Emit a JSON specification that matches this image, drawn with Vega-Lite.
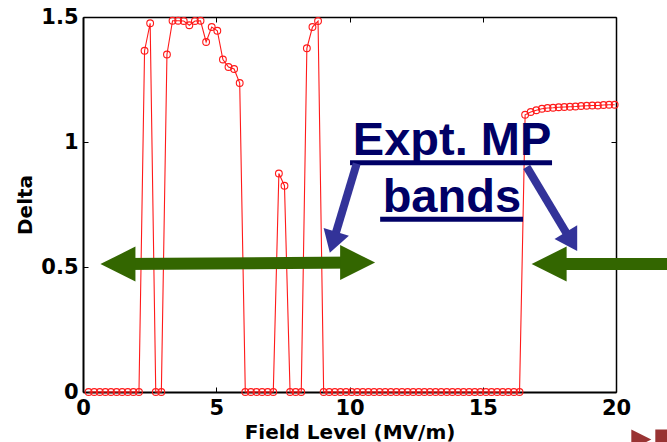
{
  "$schema": "https://vega.github.io/schema/vega-lite/v6.json",
  "autosize": {"type": "none"},
  "padding": {"left": 83, "top": 17, "right": 51, "bottom": 50},
  "width": 533,
  "height": 375,
  "background": "white",
  "config": {
    "view": {"stroke": null},
    "axis": {
      "grid": false,
      "labelFlush": false,
      "labelOverlap": false,
      "domainColor": "black",
      "tickColor": "black",
      "labelColor": "black",
      "titleColor": "black",
      "labelFont": "DejaVu Sans",
      "labelFontWeight": "bold",
      "labelFontSize": 21,
      "titleFont": "DejaVu Sans",
      "titleFontWeight": "bold",
      "titleFontSize": 20
    }
  },
  "datasets": {
    "series": [
      {"field": 0.21, "delta": 0}, {"field": 0.42, "delta": 0}, {"field": 0.63, "delta": 0}, {"field": 0.84, "delta": 0},
      {"field": 1.05, "delta": 0}, {"field": 1.26, "delta": 0}, {"field": 1.47, "delta": 0}, {"field": 1.68, "delta": 0},
      {"field": 1.89, "delta": 0}, {"field": 2.10, "delta": 0}, {"field": 2.31, "delta": 1.365}, {"field": 2.52, "delta": 1.475},
      {"field": 2.73, "delta": 0}, {"field": 2.94, "delta": 0}, {"field": 3.15, "delta": 1.35}, {"field": 3.36, "delta": 1.485},
      {"field": 3.57, "delta": 1.485}, {"field": 3.78, "delta": 1.484}, {"field": 3.99, "delta": 1.467}, {"field": 4.20, "delta": 1.484},
      {"field": 4.41, "delta": 1.485}, {"field": 4.62, "delta": 1.40}, {"field": 4.83, "delta": 1.46}, {"field": 5.04, "delta": 1.445},
      {"field": 5.25, "delta": 1.33}, {"field": 5.46, "delta": 1.30}, {"field": 5.67, "delta": 1.292}, {"field": 5.88, "delta": 1.236},
      {"field": 6.09, "delta": 0}, {"field": 6.30, "delta": 0}, {"field": 6.51, "delta": 0}, {"field": 6.72, "delta": 0},
      {"field": 6.93, "delta": 0}, {"field": 7.14, "delta": 0}, {"field": 7.35, "delta": 0.874}, {"field": 7.56, "delta": 0.825},
      {"field": 7.77, "delta": 0}, {"field": 7.98, "delta": 0}, {"field": 8.19, "delta": 0}, {"field": 8.40, "delta": 1.375},
      {"field": 8.61, "delta": 1.46}, {"field": 8.82, "delta": 1.484}, {"field": 9.03, "delta": 0}, {"field": 9.24, "delta": 0},
      {"field": 9.45, "delta": 0}, {"field": 9.66, "delta": 0}, {"field": 9.87, "delta": 0}, {"field": 10.08, "delta": 0},
      {"field": 10.29, "delta": 0}, {"field": 10.50, "delta": 0}, {"field": 10.71, "delta": 0}, {"field": 10.92, "delta": 0},
      {"field": 11.13, "delta": 0}, {"field": 11.34, "delta": 0}, {"field": 11.55, "delta": 0}, {"field": 11.76, "delta": 0},
      {"field": 11.97, "delta": 0}, {"field": 12.18, "delta": 0}, {"field": 12.39, "delta": 0}, {"field": 12.60, "delta": 0},
      {"field": 12.81, "delta": 0}, {"field": 13.02, "delta": 0}, {"field": 13.23, "delta": 0}, {"field": 13.44, "delta": 0},
      {"field": 13.65, "delta": 0}, {"field": 13.86, "delta": 0}, {"field": 14.07, "delta": 0}, {"field": 14.28, "delta": 0},
      {"field": 14.49, "delta": 0}, {"field": 14.70, "delta": 0}, {"field": 14.91, "delta": 0}, {"field": 15.12, "delta": 0},
      {"field": 15.33, "delta": 0}, {"field": 15.54, "delta": 0}, {"field": 15.75, "delta": 0}, {"field": 15.96, "delta": 0},
      {"field": 16.17, "delta": 0}, {"field": 16.38, "delta": 0}, {"field": 16.59, "delta": 1.109}, {"field": 16.80, "delta": 1.120},
      {"field": 17.01, "delta": 1.127}, {"field": 17.22, "delta": 1.133}, {"field": 17.43, "delta": 1.136}, {"field": 17.64, "delta": 1.137},
      {"field": 17.85, "delta": 1.139}, {"field": 18.06, "delta": 1.140}, {"field": 18.27, "delta": 1.141}, {"field": 18.48, "delta": 1.142},
      {"field": 18.69, "delta": 1.144}, {"field": 18.90, "delta": 1.145}, {"field": 19.11, "delta": 1.146}, {"field": 19.32, "delta": 1.146},
      {"field": 19.53, "delta": 1.148}, {"field": 19.74, "delta": 1.149}, {"field": 19.95, "delta": 1.149}
    ]
  },
  "resolve": {"axis": {"x": "independent", "y": "independent"}},
  "layer": [
    {
      "data": {"name": "series"},
      "mark": {"type": "line", "color": "#ff1a1a", "strokeWidth": 1.1, "point": {"filled": false, "size": 46, "color": "#ff1a1a", "strokeWidth": 1.1}},
      "encoding": {
        "x": {"field": "field", "type": "quantitative", "scale": {"domain": [0, 20], "nice": false, "zero": false},
          "axis": {"orient": "bottom", "values": [0, 5, 10, 15, 20], "tickSize": -5, "labelPadding": 10, "domainWidth": 2, "title": "Field Level (MV/m)", "titlePadding": 4}},
        "y": {"field": "delta", "type": "quantitative", "scale": {"domain": [0, 1.5], "nice": false, "zero": false},
          "axis": {"orient": "left", "values": [0, 0.5, 1, 1.5], "format": "~g", "tickSize": -5, "labelPadding": 10, "domainWidth": 2, "title": "Delta", "titlePadding": 5}}
      }
    },
    {
      "data": {"values": [
        {"x1": 10.02, "x2": 17.60, "y": 0.9167},
        {"x1": 11.15, "x2": 16.51, "y": 0.6914}
      ]},
      "mark": {"type": "rule", "color": "#000066", "strokeWidth": 5, "strokeCap": "butt"},
      "encoding": {
        "x": {"field": "x1", "type": "quantitative", "axis": {"orient": "top", "values": [0, 5, 10, 15, 20], "labels": false, "title": null, "tickSize": -5, "domainWidth": 1.5}},
        "x2": {"field": "x2"},
        "y": {"field": "y", "type": "quantitative", "axis": {"orient": "right", "values": [0, 0.5, 1, 1.5], "labels": false, "title": null, "tickSize": -5, "domainWidth": 1.5}}
      }
    },
    {
      "data": {"values": [
        {"label": "Expt. MP", "x": 13.85, "y": 0.9476},
        {"label": "bands", "x": 13.84, "y": 0.7206}
      ]},
      "mark": {"type": "text", "font": "Liberation Sans", "fontWeight": "bold", "fontSize": 47, "color": "#000066", "align": "center", "baseline": "alphabetic"},
      "encoding": {
        "x": {"field": "x", "type": "quantitative", "axis": null},
        "y": {"field": "y", "type": "quantitative", "axis": null},
        "text": {"field": "label"}
      }
    },
    {
      "data": {"values": [
        {"x1": 10.27, "y1": 0.9135, "x2": 9.382, "y2": 0.5989},
        {"x1": 16.65, "y1": 0.9007, "x2": 18.331, "y2": 0.6017}
      ]},
      "mark": {"type": "rule", "color": "#333399", "strokeWidth": 8, "strokeCap": "butt"},
      "encoding": {
        "x": {"field": "x1", "type": "quantitative", "axis": null},
        "y": {"field": "y1", "type": "quantitative", "axis": null},
        "x2": {"field": "x2"},
        "y2": {"field": "y2"}
      }
    },
    {
      "data": {"values": [{"x": 9.382, "y": 0.5989}]},
      "mark": {"type": "point", "shape": "M1,0L-1,-1.2L-1,1.2Z", "filled": true, "opacity": 1, "color": "#333399", "size": 484, "angle": 107.1},
      "encoding": {
        "x": {"field": "x", "type": "quantitative", "axis": null},
        "y": {"field": "y", "type": "quantitative", "axis": null}
      }
    },
    {
      "data": {"values": [{"x": 18.331, "y": 0.6017}]},
      "mark": {"type": "point", "shape": "M1,0L-1,-1.2L-1,1.2Z", "filled": true, "opacity": 1, "color": "#333399", "size": 484, "angle": 59},
      "encoding": {
        "x": {"field": "x", "type": "quantitative", "axis": null},
        "y": {"field": "y", "type": "quantitative", "axis": null}
      }
    },
    {
      "data": {"values": [
        {"x1": 1.369, "y1": 0.5116, "x2": 10.304, "y2": 0.5176},
        {"x1": 17.49, "y1": 0.512, "x2": 22.4, "y2": 0.512}
      ]},
      "mark": {"type": "rule", "color": "#336600", "strokeWidth": 12, "strokeCap": "butt"},
      "encoding": {
        "x": {"field": "x1", "type": "quantitative", "axis": null},
        "y": {"field": "y1", "type": "quantitative", "axis": null},
        "x2": {"field": "x2"},
        "y2": {"field": "y2"}
      }
    },
    {
      "data": {"values": [{"x": 1.31, "y": 0.5116}, {"x": 17.49, "y": 0.512}]},
      "mark": {"type": "point", "shape": "M1,0L-1,-1L-1,1Z", "filled": true, "opacity": 1, "color": "#336600", "size": 1225, "angle": 180},
      "encoding": {
        "x": {"field": "x", "type": "quantitative", "axis": null},
        "y": {"field": "y", "type": "quantitative", "axis": null}
      }
    },
    {
      "data": {"values": [{"x": 10.304, "y": 0.5176}]},
      "mark": {"type": "point", "shape": "M1,0L-1,-1L-1,1Z", "filled": true, "opacity": 1, "color": "#336600", "size": 1225, "angle": 0},
      "encoding": {
        "x": {"field": "x", "type": "quantitative", "axis": null},
        "y": {"field": "y", "type": "quantitative", "axis": null}
      }
    },
    {
      "data": {"values": [{"x": 20.95, "y": -0.19, "s": "M1,0L-1,-1L-1,1Z"}, {"x": 21.85, "y": -0.19, "s": "square"}]},
      "mark": {"type": "point", "filled": true, "opacity": 1, "color": "#993333", "size": 400},
      "encoding": {
        "x": {"field": "x", "type": "quantitative", "axis": null},
        "y": {"field": "y", "type": "quantitative", "axis": null},
        "shape": {"field": "s", "type": "nominal", "scale": null, "legend": null}
      }
    }
  ]
}
